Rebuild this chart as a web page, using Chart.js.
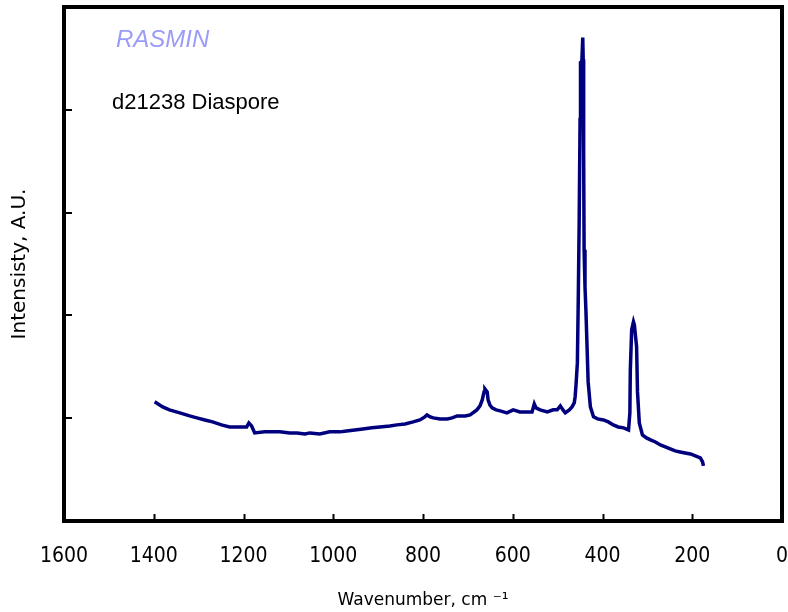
<!DOCTYPE html>
<html>
<head>
<meta charset="utf-8">
<script src="https://cdn.jsdelivr.net/npm/chart.js@4/dist/chart.umd.min.js"></script>
<style>
  html, body { margin: 0; padding: 0; background: #fff; }
  #wrap { width: 788px; height: 612px; }
</style>
</head>
<body>
<div id="wrap"><canvas id="spectrum"></canvas></div>
<script>
// Raman spectrum (wavenumber in cm-1, intensity in arbitrary units)
const wavenumbers = [
  1398, 1380, 1365, 1342, 1320, 1304, 1286, 1269, 1249, 1231, 1208, 1193, 1188, 1182, 1175,
  1153, 1119, 1097, 1081, 1063, 1052, 1030, 1008, 985, 970, 952, 934, 914, 896, 874,
  858, 840, 822, 807, 796, 791, 784, 777, 762, 746, 735, 724, 706, 695, 680,
  673, 668, 664, 662, 657, 655, 651, 646, 637, 628, 613, 599, 584, 568, 557,
  552, 548, 539, 523, 510, 501, 494, 488, 483, 474, 468, 463, 461, 459, 456,
  454, 452, 450, 449, 446, 444, 443, 442, 441, 439, 437, 434, 432, 427, 420,
  411, 398, 387, 376, 365, 353, 342, 339, 338, 335, 331, 329, 324, 322, 318,
  311, 302, 293, 282, 271, 260, 249, 238, 227, 216, 204, 193, 182, 177, 175
];
const intensities = [
  1159, 1110, 1081, 1052, 1022, 1003, 983, 964, 935, 915, 915, 915, 954, 925, 857,
  867, 867, 857, 857, 847, 857, 847, 867, 867, 876, 886, 896, 906, 915, 925,
  935, 944, 964, 983, 1013, 1032, 1013, 1003, 993, 993, 1003, 1022, 1022, 1032, 1081,
  1120, 1178, 1256, 1285, 1256, 1178, 1129, 1100, 1081, 1071, 1052, 1081, 1061, 1061, 1061,
  1139, 1100, 1081, 1061, 1081, 1081, 1120, 1081, 1052, 1081, 1110, 1149, 1207, 1324, 1538,
  2152, 2902, 3905, 4460, 4469, 4703, 4489, 3583, 2639, 2278, 2054, 1636, 1353, 1110, 1013,
  993, 983, 964, 935, 915, 906, 886, 1052, 1470, 1860, 1938, 1908, 1694, 1256, 954,
  837, 808, 789, 769, 740, 721, 701, 682, 672, 662, 652, 633, 613, 574, 536
];
const xTicks = [0, 200, 400, 600, 800, 1000, 1200, 1400, 1600];
const yTicks = [1000, 2000, 3000, 4000];

const sampleName = 'd21238 Diaspore';
const brand = 'RASMIN';

const points = wavenumbers.map((w, i) => ({ x: w, y: intensities[i] }));

// frame round the plot and inward tick marks, placed with the chart's own scales
const framePlugin = {
  id: 'frame',
  afterDraw(chart) {
    const { ctx, chartArea: a, scales } = chart;
    ctx.save();
    ctx.strokeStyle = '#000';
    ctx.lineWidth = 2;
    ctx.beginPath();
    xTicks.slice(1, -1).forEach(v => {
      const px = Math.round(scales.x.getPixelForValue(v)) + 0.5;
      ctx.moveTo(px, a.bottom);
      ctx.lineTo(px, a.bottom - 7);
    });
    yTicks.forEach(v => {
      const py = Math.round(scales.y.getPixelForValue(v));
      ctx.moveTo(a.left, py);
      ctx.lineTo(a.left + 8, py);
    });
    ctx.stroke();
    ctx.lineWidth = 4;
    ctx.strokeRect(a.left, a.top, a.right - a.left, a.bottom - a.top);

    ctx.font = 'italic 24px "Liberation Sans", Arial, sans-serif';
    ctx.fillStyle = '#9a9cf8';
    ctx.textBaseline = 'alphabetic';
    ctx.fillText(brand, 116, 47);
    ctx.font = '22px "Liberation Sans", Arial, sans-serif';
    ctx.fillStyle = '#000';
    ctx.fillText(sampleName, 112, 109);
    ctx.restore();
  }
};

new Chart(document.getElementById('spectrum'), {
  type: 'scatter',
  data: {
    datasets: [{
      data: points,
      showLine: true,
      borderColor: '#00007f',
      borderWidth: 3.5,
      pointRadius: 0,
      tension: 0
    }]
  },
  options: {
    responsive: true,
    maintainAspectRatio: false,
    animation: false,
    layout: { padding: { left: 0, right: 6, top: 7, bottom: 0 } },
    plugins: { legend: { display: false }, tooltip: { enabled: false } },
    scales: {
      x: {
        type: 'linear',
        reverse: true,
        min: 0,
        max: 1600,
        afterFit(scale) {
          scale.height = 91;
          scale.paddingLeft = 0;
          scale.paddingRight = 0;
        },
        afterBuildTicks(scale) { scale.ticks = xTicks.map(v => ({ value: v })); },
        grid: { display: false, drawTicks: false },
        border: { display: false },
        ticks: {
          color: '#000',
          padding: 23,
          maxRotation: 0,
          autoSkip: false,
          callback: v => String(v),
          font: { family: '"DejaVu Sans Condensed", sans-serif', size: 21 }
        },
        title: {
          display: true,
          text: 'Wavenumber, cm \u207B\u00B9',
          color: '#000',
          padding: { top: 0, bottom: 1 },
          font: { family: '"DejaVu Sans", sans-serif', size: 17 }
        }
      },
      y: {
        type: 'linear',
        min: 0,
        max: 5000,
        afterFit(scale) { scale.width = 64; },
        grid: { display: false, drawTicks: false },
        border: { display: false },
        ticks: { display: false, stepSize: 1000 },
        title: {
          display: true,
          text: 'Intensisty, A.U.',
          color: '#000',
          padding: { top: 8, bottom: 0 },
          font: { family: '"DejaVu Sans", sans-serif', size: 20 }
        }
      }
    }
  },
  plugins: [framePlugin]
});
</script>
</body>
</html>
